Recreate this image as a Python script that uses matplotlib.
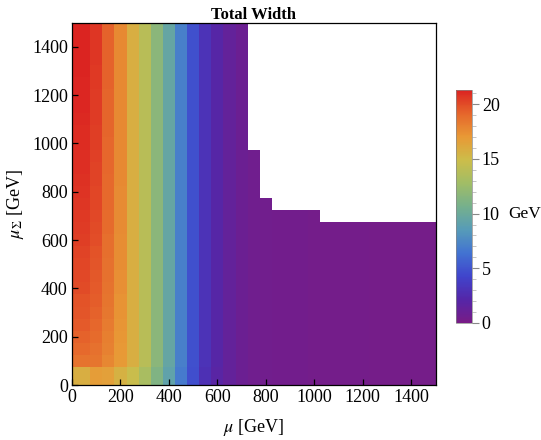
import numpy as np
import matplotlib
matplotlib.use("Agg")
import matplotlib.pyplot as plt
from matplotlib.colors import LinearSegmentedColormap
from matplotlib.ticker import MultipleLocator

plt.rcParams['font.family'] = ['Liberation Serif', 'DejaVu Serif']
plt.rcParams['mathtext.fontset'] = 'stix'

# ---------------- data ----------------
# grid points (GeV)
mu_points = [50, 100, 150, 200, 250, 300, 350, 400, 450, 500, 550, 600, 650, 700, 750,
             800, 850, 900, 950, 1000, 1050, 1100, 1150, 1200, 1250, 1300, 1350, 1400, 1450, 1500]
musigma_points = list(mu_points)

# first four mu columns vary with mu_Sigma (bottom to top), GeV
width_mu50 = [15.8, 18.6, 19.0, 19.3, 19.5, 19.7, 19.8, 20.0, 20.1, 20.2, 20.3, 20.4, 20.5, 20.6, 20.7,
              20.8, 20.85, 20.9, 20.95, 21.0, 21.05, 21.1, 21.15, 21.2, 21.2, 21.25, 21.3, 21.3, 21.3, 21.3]
width_mu100 = [16.8, 18.5, 18.7, 18.9, 19.1, 19.3, 19.4, 19.5, 19.6, 19.7, 19.8, 19.9, 20.0, 20.1, 20.15,
               20.2, 20.25, 20.3, 20.35, 20.4, 20.45, 20.5, 20.5, 20.55, 20.6, 20.6, 20.65, 20.7, 20.7, 20.7]
width_mu150 = [16.6, 17.8, 18.0, 18.1, 18.3, 18.4, 18.5, 18.6, 18.7, 18.7, 18.8, 18.8, 18.9, 18.9, 19.0,
               19.0, 19.0, 19.1, 19.1, 19.1, 19.2, 19.2, 19.2, 19.2, 19.3, 19.3, 19.3, 19.3, 19.3, 19.3]
width_mu200 = [15.6, 16.9, 17.0, 17.1, 17.2, 17.3, 17.3, 17.4, 17.4, 17.5, 17.5, 17.5, 17.6, 17.6, 17.6,
               17.6, 17.7, 17.7, 17.7, 17.7, 17.7, 17.7, 17.7, 17.7, 17.7, 17.7, 17.7, 17.7, 17.7, 17.7]

# remaining mu columns (mu = 250 ... 1500), nearly independent of mu_Sigma
width_upper = [15.8, 13.9, 11.7, 9.5, 7.0, 4.8, 3.0, 2.0, 1.3, 0.8, 0.55, 0.45, 0.40, 0.37, 0.34,
               0.32, 0.30, 0.28, 0.26, 0.25, 0.24, 0.22, 0.21, 0.20, 0.19, 0.18]
# lowest mu_Sigma row for mu = 250 ... 1500
width_bottom = [14.8, 13.2, 11.2, 9.2, 6.8, 4.7, 2.9, 1.9, 1.25, 0.8, 0.55, 0.45, 0.40, 0.37, 0.34,
                0.32, 0.30, 0.28, 0.26, 0.25, 0.24, 0.22, 0.21, 0.20, 0.19, 0.18]

# largest mu_Sigma grid point with a result, per mu column
musigma_max = [1500] * 14 + [950, 750, 700, 700, 700, 700] + [650] * 10

colorbar_ticks = [0, 5, 10, 15, 20]
vmin, vmax = 0.0, 21.3

# ---------------- build table ----------------
mu = np.array(mu_points, float)
ms = np.array(musigma_points, float)
Z = np.zeros((len(ms), len(mu)))
Z[:, 0] = width_mu50
Z[:, 1] = width_mu100
Z[:, 2] = width_mu150
Z[:, 3] = width_mu200
for j, v in enumerate(width_upper):
    Z[:, 4 + j] = v
    Z[0, 4 + j] = width_bottom[j]
mask = ms[:, None] > np.array(musigma_max)[None, :]
Zm = np.ma.masked_array(Z, mask)

def edges(p):
    mids = (p[1:] + p[:-1]) / 2
    return np.concatenate([[0.0], mids, [p[-1]]])

xe = edges(mu)
ye = edges(ms)

cmap = LinearSegmentedColormap.from_list("rainbow_m", [
    (0.00, (0.471, 0.109, 0.527)),
    (0.10, (0.33, 0.15, 0.66)),
    (0.20, (0.25, 0.27, 0.80)),
    (0.30, (0.26, 0.45, 0.82)),
    (0.40, (0.34, 0.61, 0.72)),
    (0.50, (0.46, 0.69, 0.55)),
    (0.60, (0.63, 0.74, 0.40)),
    (0.70, (0.80, 0.74, 0.29)),
    (0.80, (0.91, 0.60, 0.21)),
    (0.90, (0.90, 0.40, 0.17)),
    (1.00, (0.86, 0.14, 0.13)),
])

# ---------------- figure ----------------
fig = plt.figure(figsize=(5.41, 4.40), dpi=100)
ax = fig.add_axes([0.1331, 0.125, 0.6719, 0.8234])
pc = ax.pcolormesh(xe, ye, Zm, cmap=cmap, vmin=vmin, vmax=vmax, shading='flat')
ax.set_xlim(0, 1500)
ax.set_ylim(0, 1500)
ax.xaxis.set_major_locator(MultipleLocator(200))
ax.yaxis.set_major_locator(MultipleLocator(200))
ax.tick_params(direction='in', length=4, width=0.9, labelsize=13, pad=3)
for s in ax.spines.values():
    s.set_linewidth(0.9)
ax.set_title("Total Width", fontsize=12, fontweight='bold', pad=3)
ax.set_xlabel(r"$\mu$ [GeV]", fontsize=13, labelpad=8)
ax.set_ylabel(r"$\mu_\Sigma$ [GeV]", fontsize=13, labelpad=4)

cax = fig.add_axes([0.843, 0.266, 0.0296, 0.5295])
cb = fig.colorbar(pc, cax=cax)
cb.set_ticks(colorbar_ticks)
cb.ax.yaxis.set_minor_locator(MultipleLocator(1))
cb.ax.tick_params(which='major', length=5, width=0.8, color='#888888', labelsize=13, pad=2)
cb.ax.tick_params(which='minor', length=3, width=0.6, color='#bbbbbb')
cb.outline.set_linewidth(0.5)
cb.outline.set_edgecolor('#888888')
cax.text(3.25, 10, "GeV", transform=cax.get_yaxis_transform(), fontsize=12.5,
         va='center', ha='left')

fig.savefig("out.png", dpi=100)
